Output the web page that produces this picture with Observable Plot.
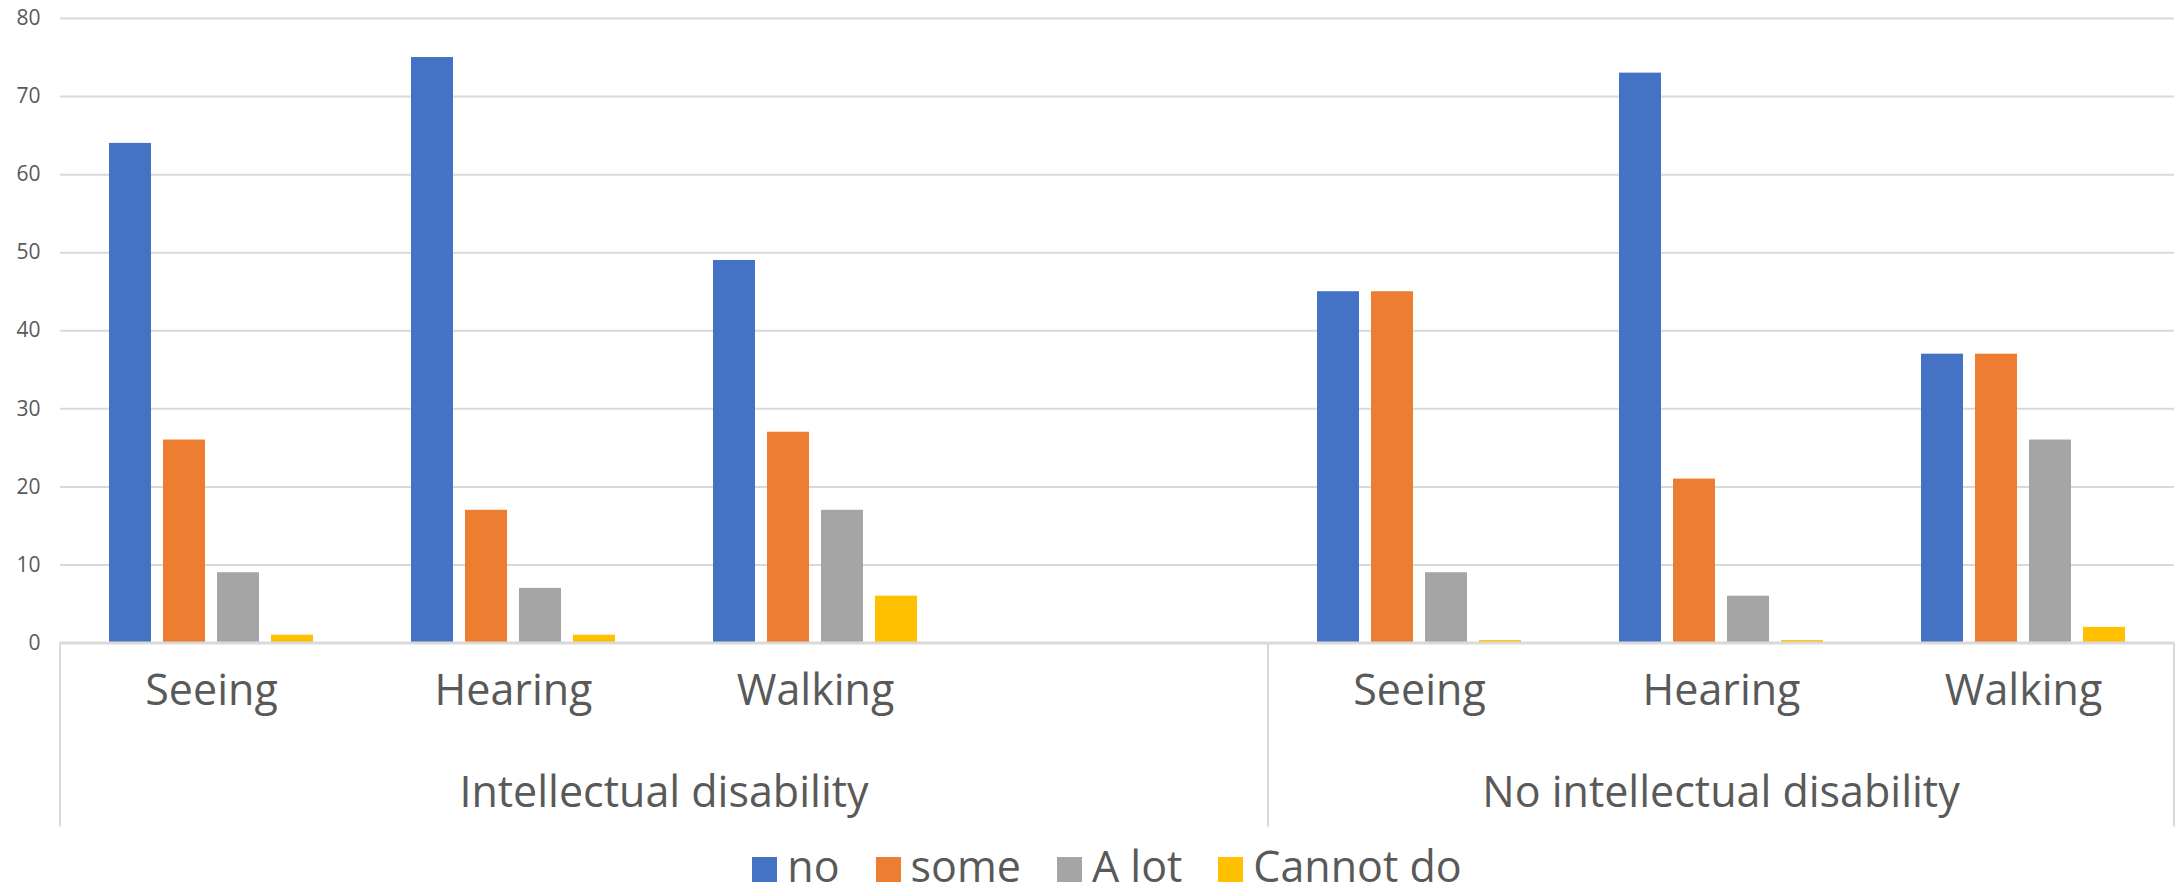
<!DOCTYPE html>
<html>
<head>
<meta charset="utf-8">
<script src="https://cdn.jsdelivr.net/npm/d3@7"></script>
<script src="https://cdn.jsdelivr.net/npm/@observablehq/plot@0.6"></script>
<style>
  html, body { margin: 0; padding: 0; background: #ffffff; }
  body { font-family: "Open Sans", sans-serif; width: 2176px; height: 892px; overflow: hidden; }
  #chart svg { display: block; }
  #legend { display: flex; justify-content: center; align-items: baseline; padding-left: 38px;
            margin-top: 10px; font-size: 43px; line-height: 52px; color: #595959; white-space: nowrap; }
  #legend .item { display: flex; align-items: baseline; margin: 0 18px; }
  #legend .sw { display: inline-block; width: 25px; height: 25px; margin-right: 10px; }
</style>
</head>
<body>
<div id="chart"></div>
<div id="legend"></div>
<script>
// ---- data ----
const groups = ["Intellectual disability", "No intellectual disability"];
const intellectualCategories = ["Seeing", "Hearing", "Walking", ""];   // last slot is an empty spacer in the source chart
const noIntellectualCategories = ["Seeing", "Hearing", "Walking"];
const series = ["no", "some", "A lot", "Cannot do"];
const seriesColors = ["#4472c4", "#ed7d31", "#a5a5a5", "#ffc000"];
const yTicks = [0, 10, 20, 30, 40, 50, 60, 70, 80];
// values per category, in series order
const intellectualValues = [
  [64, 26, 9, 1],   // Seeing
  [75, 17, 7, 1],   // Hearing
  [49, 27, 17, 6]   // Walking
];
const noIntellectualValues = [
  [45, 45, 9, 0.3], // Seeing
  [73, 21, 6, 0.3], // Hearing
  [37, 37, 26, 2]   // Walking
];

// ---- tables built from the arrays ----
const groupDefs = [
  {name: groups[0], categories: intellectualCategories, values: intellectualValues},
  {name: groups[1], categories: noIntellectualCategories, values: noIntellectualValues}
];
const slotRows = [];
const rows = [];
for (const g of groupDefs) {
  g.slots = [];
  g.categories.forEach((c, ci) => {
    const slot = g.name + "|" + ci;
    g.slots.push(slot);
    slotRows.push({slot, group: g.name, category: c});
    const vals = g.values[ci];
    if (vals) series.forEach((s, si) => rows.push({slot, group: g.name, category: c, series: s, value: vals[si]}));
  });
}
const slotKeys = slotRows.map(d => d.slot);

const textColor = "#595959";
const lineColor = "#d9d9d9";

// group labels and separator lines below the axis, positioned with the fx scale
function groupFrame(index, scales, values, dims) {
  const fx = scales.fx;
  const bw = fx.bandwidth();
  const y0 = dims.height - dims.marginBottom;
  const g = d3.create("svg:g");
  for (const grp of groupDefs) {
    const x0 = fx(grp.slots[0]);
    const x1 = fx(grp.slots[grp.slots.length - 1]) + bw;
    for (const x of [x0, x1]) {
      g.append("line").attr("x1", x).attr("x2", x).attr("y1", y0).attr("y2", y0 + 184)
        .attr("stroke", lineColor).attr("stroke-width", 2);
    }
    g.append("text").attr("x", (x0 + x1) / 2).attr("y", y0 + 153)
      .attr("text-anchor", "middle").attr("dominant-baseline", "middle")
      .attr("font-size", 43).attr("fill", textColor).text(grp.name);
  }
  return g.node();
}

const chart = Plot.plot({
  width: 2176,
  height: 830,
  marginLeft: 59,
  marginRight: 1,
  marginTop: 18,
  marginBottom: 187.5,
  style: {fontFamily: "Open Sans", background: "#ffffff", color: textColor, overflow: "visible"},
  fx: {domain: slotKeys, padding: 0, axis: null},
  x: {domain: series, paddingInner: 0.218, paddingOuter: 0.858, axis: null},
  y: {domain: [0, 80], axis: null},
  color: {domain: series, range: seriesColors},
  marks: [
    Plot.gridY(yTicks, {stroke: lineColor, strokeOpacity: 1, strokeWidth: 2}),
    Plot.axisY(yTicks, {label: null, tickSize: 0, tickPadding: 20, fontSize: 21, fill: textColor}),
    Plot.barY(rows, {fx: "slot", x: "series", y: "value", fill: "series"}),
    Plot.ruleY([0], {stroke: lineColor, strokeWidth: 3}),
    Plot.text(slotRows, {fx: "slot", text: "category", frameAnchor: "bottom", dy: 62, fontSize: 43, fill: textColor}),
    Plot.frame({facet: "super", render: groupFrame})
  ]
});
document.getElementById("chart").appendChild(chart);

// legend
const legend = d3.select("#legend");
series.forEach((s, i) => {
  const item = legend.append("div").attr("class", "item");
  item.append("span").attr("class", "sw").style("background", seriesColors[i]);
  item.append("span").text(s);
});
</script>
</body>
</html>
